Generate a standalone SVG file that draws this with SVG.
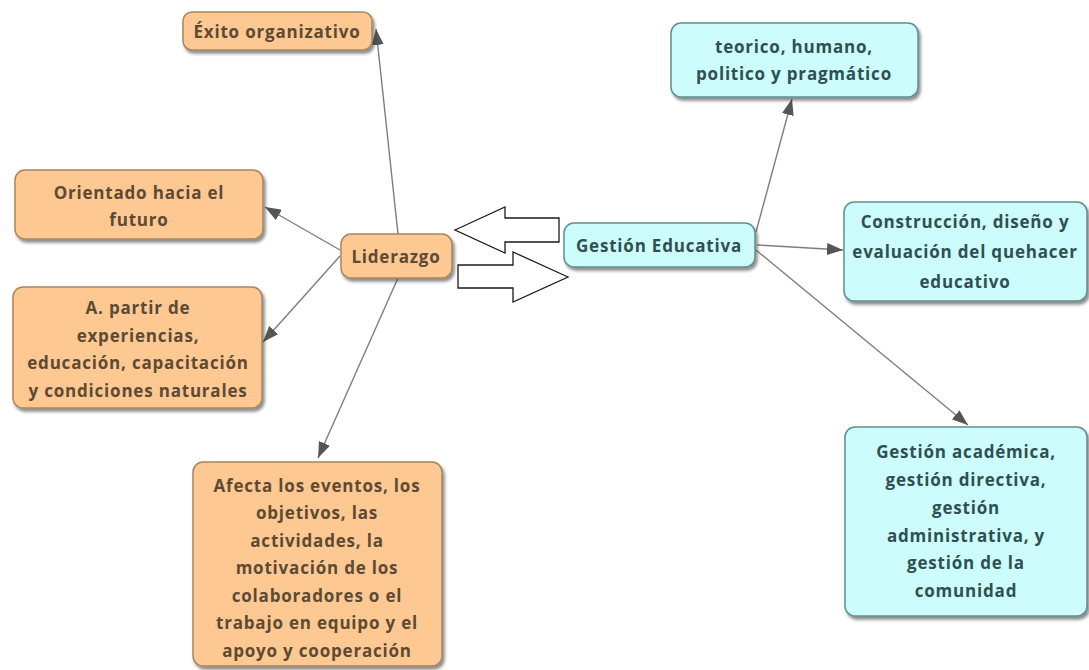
<svg xmlns="http://www.w3.org/2000/svg" width="1089" height="670" viewBox="0 0 1089 670">
  <style>
    .orange rect { fill: #fdc892; stroke: #a8865e; stroke-width: 1.5; filter: url(#shadow); }
    .cyan rect { fill: #ccfcfc; stroke: #5f8f8f; stroke-width: 1.5; filter: url(#shadow); }
    text { font-family: "Open Sans", "DejaVu Sans", sans-serif; font-weight: 700; font-size: 17px; letter-spacing: 0.8px; text-anchor: middle; dominant-baseline: central; }
    .orange text { fill: #5e4a32; }
    .cyan text { fill: #2f5050; }
    .link { stroke: #7d7d7d; stroke-width: 1.4; fill: none; marker-end: url(#head); }
    .block { fill: #ffffff; stroke: #1a1a1a; stroke-width: 1.3; }
  </style>
  <defs>
    <filter id="shadow" x="-10%" y="-10%" width="125%" height="135%">
      <feDropShadow dx="2" dy="3" stdDeviation="1.5" flood-color="#333" flood-opacity="0.55"/>
    </filter>
    <marker id="head" viewBox="0 0 16 12" refX="16" refY="6" markerWidth="16" markerHeight="12" markerUnits="userSpaceOnUse" orient="auto">
      <path d="M0,0 L16,6 L0,12 Z" fill="#555"/>
    </marker>
  </defs>

  <rect width="1089" height="670" fill="#ffffff"/>

  <!-- connectors -->
  <g id="connectors">
    <line class="link" x1="398" y1="234" x2="376" y2="29"/>
    <line class="link" x1="340" y1="250" x2="265" y2="207"/>
    <line class="link" x1="340" y1="256" x2="263" y2="342"/>
    <line class="link" x1="398" y1="278" x2="318" y2="458"/>
    <line class="link" x1="756" y1="232" x2="792" y2="99"/>
    <line class="link" x1="757" y1="245" x2="843" y2="250"/>
    <line class="link" x1="756" y1="250" x2="968" y2="425"/>
    <!-- double block arrows between the two central ideas -->
    <path class="block" d="M455,230 L505,207 L505,218 L559,218 L559,242 L505,242 L505,253 Z"/>
    <path class="block" d="M568,277 L513,252 L513,265 L458,265 L458,288 L513,288 L513,302 Z"/>
  </g>

  <g id="exito" class="orange">
    <rect x="183" y="12" width="189" height="38" rx="9"/>
    <text x="277" y="31">Éxito organizativo</text>
  </g>

  <g id="orientado" class="orange">
    <rect x="15" y="170" width="248" height="69" rx="10"/>
    <text x="139" y="192">Orientado hacia el</text>
    <text x="139" y="219">futuro</text>
  </g>

  <g id="liderazgo" class="orange">
    <rect x="341" y="234" width="111" height="44" rx="10"/>
    <text x="396" y="256">Liderazgo</text>
  </g>

  <g id="partir" class="orange">
    <rect x="13" y="287" width="249" height="121" rx="10"/>
    <text x="138" y="307">A. partir de</text>
    <text x="138" y="335">experiencias,</text>
    <text x="138" y="362">educación, capacitación</text>
    <text x="138" y="390">y condiciones naturales</text>
  </g>

  <g id="afecta" class="orange">
    <rect x="193" y="462" width="249" height="204" rx="10"/>
    <text x="317" y="485">Afecta los eventos, los</text>
    <text x="317" y="512.5">objetivos, las</text>
    <text x="317" y="540">actividades, la</text>
    <text x="317" y="567.5">motivación de los</text>
    <text x="317" y="595">colaboradores o el</text>
    <text x="317" y="622.5">trabajo en equipo y el</text>
    <text x="317" y="650">apoyo y cooperación</text>
  </g>

  <g id="teorico" class="cyan">
    <rect x="671" y="23" width="247" height="74" rx="10"/>
    <text x="794" y="46">teorico, humano,</text>
    <text x="794" y="73">politico y pragmático</text>
  </g>

  <g id="gestion" class="cyan">
    <rect x="564" y="223" width="191" height="44" rx="10"/>
    <text x="659" y="245">Gestión Educativa</text>
  </g>

  <g id="construccion" class="cyan">
    <rect x="844" y="202" width="243" height="99" rx="10"/>
    <text x="965" y="221">Construcción, diseño y</text>
    <text x="965" y="251">evaluación del quehacer</text>
    <text x="965" y="281">educativo</text>
  </g>

  <g id="academica" class="cyan">
    <rect x="845" y="427" width="242" height="189" rx="10"/>
    <text x="966" y="451">Gestión académica,</text>
    <text x="966" y="479">gestión directiva,</text>
    <text x="966" y="507">gestión</text>
    <text x="966" y="535">administrativa, y</text>
    <text x="966" y="562">gestión de la</text>
    <text x="966" y="590">comunidad</text>
  </g>
</svg>
